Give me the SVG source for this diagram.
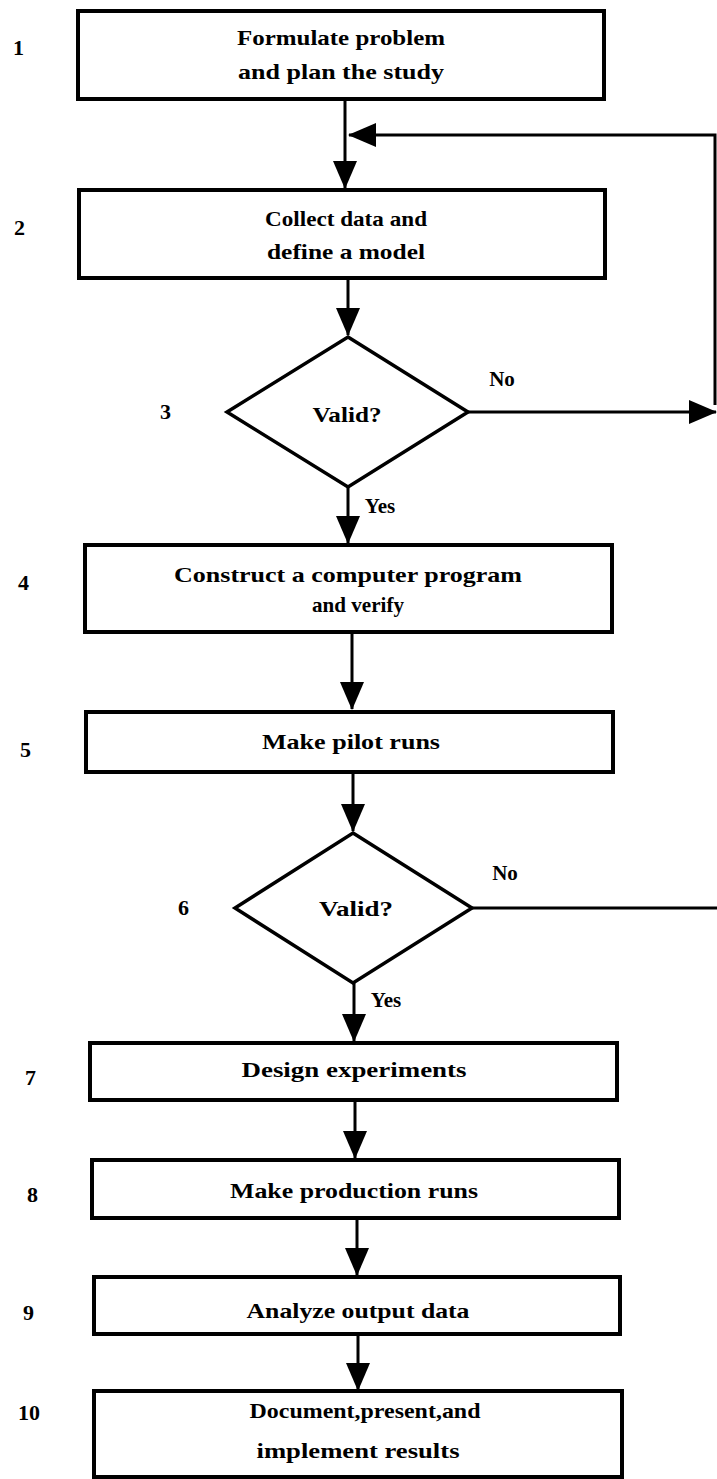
<svg xmlns="http://www.w3.org/2000/svg" width="717" height="1479" viewBox="0 0 717 1479">
  <style>
    .box { fill: #ffffff; stroke: #000000; stroke-width: 4; }
    .dia { fill: #ffffff; stroke: #000000; stroke-width: 3.5; stroke-linejoin: miter; }
    .edge { fill: none; stroke: #000000; stroke-width: 3; }
    .t { font-family: "Liberation Serif", "Times New Roman", serif; font-weight: bold; font-size: 21px; fill: #000000; text-anchor: middle; }
    .num { font-family: "Liberation Serif", "Times New Roman", serif; font-weight: bold; font-size: 22px; fill: #000000; }
  </style>
  <defs>
    <marker id="arrow" markerUnits="userSpaceOnUse" markerWidth="28" markerHeight="24" refX="27" refY="12" orient="auto">
      <path d="M0,0 L28,12 L0,24 z" fill="#000000"/>
    </marker>
  </defs>
  <rect width="717" height="1479" fill="#ffffff"/>

  <!-- connectors -->
  <g id="connectors">
    <line class="edge" x1="345" y1="99" x2="345" y2="188" marker-end="url(#arrow)"/>
    <polyline class="edge" points="715,405 715,135 349,135" marker-end="url(#arrow)"/>
    <line class="edge" x1="348" y1="278" x2="348" y2="335" marker-end="url(#arrow)"/>
    <line class="edge" x1="468" y1="412" x2="716" y2="412" marker-end="url(#arrow)"/>
    <line class="edge" x1="348" y1="487" x2="348" y2="543" marker-end="url(#arrow)"/>
    <line class="edge" x1="352" y1="632" x2="352" y2="709" marker-end="url(#arrow)"/>
    <line class="edge" x1="353" y1="772" x2="353" y2="831" marker-end="url(#arrow)"/>
    <line class="edge" x1="472" y1="908" x2="717" y2="908"/>
    <line class="edge" x1="354" y1="983" x2="354" y2="1041" marker-end="url(#arrow)"/>
    <line class="edge" x1="355" y1="1100" x2="355" y2="1158" marker-end="url(#arrow)"/>
    <line class="edge" x1="357" y1="1218" x2="357" y2="1275" marker-end="url(#arrow)"/>
    <line class="edge" x1="358" y1="1334" x2="358" y2="1390" marker-end="url(#arrow)"/>
    <text class="t" x="502" y="386">No</text>
    <text class="t" x="380" y="513">Yes</text>
    <text class="t" x="505" y="880">No</text>
    <text class="t" x="386" y="1007">Yes</text>
  </g>

  <g id="step1">
    <text class="num" x="13" y="55">1</text>
    <rect class="box" x="78" y="11" width="526" height="88"/>
    <text class="t" x="341" y="45" textLength="208" lengthAdjust="spacingAndGlyphs">Formulate problem</text>
    <text class="t" x="341" y="79" textLength="206" lengthAdjust="spacingAndGlyphs">and plan the study</text>
  </g>

  <g id="step2">
    <text class="num" x="14" y="235">2</text>
    <rect class="box" x="79" y="190" width="526" height="88"/>
    <text class="t" x="346" y="226" textLength="162" lengthAdjust="spacingAndGlyphs">Collect data and</text>
    <text class="t" x="346" y="259" textLength="158" lengthAdjust="spacingAndGlyphs">define a model</text>
  </g>

  <g id="step3">
    <text class="num" x="160" y="419">3</text>
    <polygon class="dia" points="348,337 468,412 348,487 227,412"/>
    <text class="t" x="347" y="422" textLength="69" lengthAdjust="spacingAndGlyphs">Valid?</text>
  </g>

  <g id="step4">
    <text class="num" x="18" y="590">4</text>
    <rect class="box" x="85" y="545" width="527" height="87"/>
    <text class="t" x="348" y="582" textLength="348" lengthAdjust="spacingAndGlyphs">Construct a computer program</text>
    <text class="t" x="358" y="612" textLength="92" lengthAdjust="spacingAndGlyphs">and verify</text>
  </g>

  <g id="step5">
    <text class="num" x="20" y="757">5</text>
    <rect class="box" x="86" y="712" width="527" height="60"/>
    <text class="t" x="351" y="749" textLength="178" lengthAdjust="spacingAndGlyphs">Make pilot runs</text>
  </g>

  <g id="step6">
    <text class="num" x="178" y="915">6</text>
    <polygon class="dia" points="353,833 472,908 353,983 235,908"/>
    <text class="t" x="356" y="916" textLength="74" lengthAdjust="spacingAndGlyphs">Valid?</text>
  </g>

  <g id="step7">
    <text class="num" x="25" y="1085">7</text>
    <rect class="box" x="90" y="1043" width="527" height="57"/>
    <text class="t" x="354" y="1077" textLength="225" lengthAdjust="spacingAndGlyphs">Design experiments</text>
  </g>

  <g id="step8">
    <text class="num" x="27" y="1202">8</text>
    <rect class="box" x="92" y="1160" width="527" height="58"/>
    <text class="t" x="354" y="1198" textLength="248" lengthAdjust="spacingAndGlyphs">Make production runs</text>
  </g>

  <g id="step9">
    <text class="num" x="23" y="1320">9</text>
    <rect class="box" x="94" y="1277" width="526" height="57"/>
    <text class="t" x="358" y="1318" textLength="223" lengthAdjust="spacingAndGlyphs">Analyze output data</text>
  </g>

  <g id="step10">
    <text class="num" x="18" y="1420">10</text>
    <rect class="box" x="94" y="1391" width="528" height="86"/>
    <text class="t" x="365" y="1418" textLength="231" lengthAdjust="spacingAndGlyphs">Document,present,and</text>
    <text class="t" x="358" y="1458" textLength="203" lengthAdjust="spacingAndGlyphs">implement results</text>
  </g>
</svg>
